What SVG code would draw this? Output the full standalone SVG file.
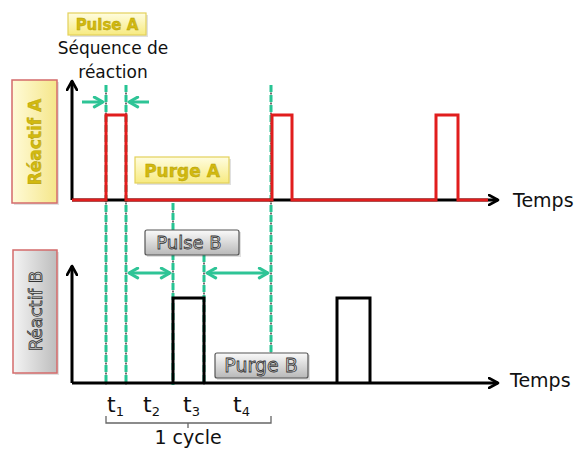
<svg xmlns="http://www.w3.org/2000/svg" width="582" height="452" viewBox="0 0 582 452">
<defs>
<linearGradient id="gy" x1="0" y1="0" x2="0" y2="1"><stop offset="0" stop-color="#fffde0"/><stop offset="1" stop-color="#f7ea80"/></linearGradient>
<linearGradient id="gyv" x1="0" y1="0" x2="1" y2="0"><stop offset="0" stop-color="#fffbd8"/><stop offset="1" stop-color="#f5e68a"/></linearGradient>
<linearGradient id="gg" x1="0" y1="0" x2="0" y2="1"><stop offset="0" stop-color="#fafafa"/><stop offset="1" stop-color="#b8b8b8"/></linearGradient>
<linearGradient id="ggv" x1="0" y1="0" x2="1" y2="0"><stop offset="0" stop-color="#f4f4f4"/><stop offset="1" stop-color="#bdbdbd"/></linearGradient>
<marker id="ak" viewBox="0 0 12 12" refX="10" refY="6" markerWidth="12" markerHeight="12" markerUnits="userSpaceOnUse" orient="auto-start-reverse"><path d="M1,1 L10,6 L1,11" fill="none" stroke="#000" stroke-width="2.6" stroke-linecap="round" stroke-linejoin="round"/></marker>
<marker id="ag" viewBox="0 0 12 12" refX="10" refY="6" markerWidth="13" markerHeight="13" markerUnits="userSpaceOnUse" orient="auto-start-reverse"><path d="M2,1.5 L10,6 L2,10.5" fill="none" stroke="#2ec496" stroke-width="2.8" stroke-linecap="round" stroke-linejoin="round"/></marker>
</defs>
<style>
.ax{stroke:#000;stroke-width:3;fill:none}
.red{stroke:#e11d1d;stroke-width:3;fill:none;stroke-linejoin:miter}
.blk{stroke:#000;stroke-width:3;fill:none}
.gd{stroke:#27c493;stroke-width:3;stroke-dasharray:7 3;fill:none}
.gdot{stroke:#333;stroke-width:1.4;stroke-dasharray:2 8;stroke-dashoffset:-7.5;fill:none}
.ga{stroke:#2ec496;stroke-width:3;fill:none}
.txt{font-family:"DejaVu Sans",sans-serif;fill:#111}
.ylab{font-family:"DejaVu Sans",sans-serif;font-weight:bold;fill:#d2b90f;stroke:#b09a00;stroke-width:0.4}
.glab{font-family:"DejaVu Sans",sans-serif;fill:#d6d6d6;stroke:#333;stroke-width:0.8}
.ybox{fill:url(#gy);stroke:#e3d15a;stroke-width:1.2}
.gbox{fill:url(#gg);stroke:#555;stroke-width:1.2}
.shadow{fill:#000;opacity:0.12}
</style>

<g id="connectors">
<line class="gdot" x1="106" y1="85" x2="106" y2="385"/><line class="gd" x1="106" y1="85" x2="106" y2="385"/>
<line class="gdot" x1="126" y1="85" x2="126" y2="385"/><line class="gd" x1="126" y1="85" x2="126" y2="385"/>
<line class="gdot" x1="173" y1="203" x2="173" y2="385"/><line class="gd" x1="173" y1="203" x2="173" y2="385"/>
<line class="gdot" x1="204" y1="255" x2="204" y2="385"/><line class="gd" x1="204" y1="255" x2="204" y2="385"/>
<line class="gdot" x1="271" y1="85" x2="271" y2="353"/><line class="gd" x1="271" y1="85" x2="271" y2="353"/>
<line class="ga" x1="82" y1="102" x2="103" y2="102" marker-end="url(#ag)"/>
<line class="ga" x1="149" y1="102" x2="129" y2="102" marker-end="url(#ag)"/>
<line class="ga" x1="129" y1="273" x2="170" y2="273" marker-start="url(#ag)" marker-end="url(#ag)"/>
<line class="ga" x1="207" y1="273" x2="268" y2="273" marker-start="url(#ag)" marker-end="url(#ag)"/>
</g>

<g id="axis-a">
<line class="ax" x1="72" y1="200" x2="72" y2="81" marker-end="url(#ak)"/>
<line class="ax" x1="72" y1="200" x2="498" y2="200" marker-end="url(#ak)"/>
<path class="red" d="M72,200 H106 V115 H126 V200 H272 V115 H292 V200 H436 V115 H458 V200 H488"/>
<text class="txt" x="513" y="207" font-size="19">Temps</text>
</g>

<g id="axis-b">
<line class="ax" x1="72" y1="383" x2="72" y2="266" marker-end="url(#ak)"/>
<line class="ax" x1="72" y1="383" x2="498" y2="383" marker-end="url(#ak)"/>
<path class="blk" d="M173,383 V298 H204 V383"/>
<path class="blk" d="M337,383 V298 H370 V383" stroke-width="2.6"/>
<text class="txt" x="510" y="387" font-size="19">Temps</text>
</g>

<g id="pulse-a">
<rect class="shadow" x="70" y="15" width="78" height="22"/>
<rect class="ybox" x="68" y="13" width="78" height="22"/>
<text class="ylab" x="107" y="30" font-size="15" text-anchor="middle">Pulse A</text>
</g>

<g id="sequence">
<text class="txt" x="113" y="54" font-size="17" text-anchor="middle">Séquence de</text>
<text class="txt" x="113" y="78" font-size="17" text-anchor="middle">réaction</text>
</g>

<g id="reactif-a">
<rect class="shadow" x="14" y="82" width="45" height="123"/>
<rect x="12" y="80" width="45" height="123" fill="url(#gyv)" stroke="#d46b6b" stroke-width="1.5"/>
<text class="ylab" transform="translate(41,142) rotate(-90)" font-size="17" text-anchor="middle">Réactif A</text>
</g>

<g id="purge-a">
<rect class="shadow" x="137" y="159" width="94" height="26"/>
<rect class="ybox" x="135" y="157" width="94" height="26"/>
<text class="ylab" x="182" y="177" font-size="17" text-anchor="middle">Purge A</text>
</g>

<g id="pulse-b">
<rect class="shadow" x="147" y="232" width="94" height="25"/>
<rect class="gbox" x="145" y="230" width="94" height="25" rx="2"/>
<text class="glab" x="189" y="249" font-size="18" text-anchor="middle">Pulse B</text>
</g>

<g id="reactif-b">
<rect class="shadow" x="15" y="252" width="44" height="123"/>
<rect x="13" y="250" width="44" height="123" fill="url(#ggv)" stroke="#d46b6b" stroke-width="1.5"/>
<text class="glab" transform="translate(42,311) rotate(-90)" font-size="18" text-anchor="middle">Réactif B</text>
</g>

<g id="purge-b">
<rect class="shadow" x="217" y="355" width="93" height="25"/>
<rect class="gbox" x="215" y="353" width="93" height="25" rx="2"/>
<text class="glab" x="261" y="372" font-size="19" text-anchor="middle">Purge B</text>
</g>

<g id="times">
<text class="txt" x="107" y="412" font-size="22">t<tspan font-size="13" dy="4">1</tspan></text>
<text class="txt" x="143" y="412" font-size="22">t<tspan font-size="13" dy="4">2</tspan></text>
<text class="txt" x="183" y="412" font-size="22">t<tspan font-size="13" dy="4">3</tspan></text>
<text class="txt" x="233" y="412" font-size="22">t<tspan font-size="13" dy="4">4</tspan></text>
</g>

<g id="cycle">
<path d="M106,416 V423 H271 V416 M188,423 V428" fill="none" stroke="#666" stroke-width="1.3"/>
<text class="txt" x="188" y="444" font-size="19" text-anchor="middle">1 cycle</text>
</g>
</svg>
